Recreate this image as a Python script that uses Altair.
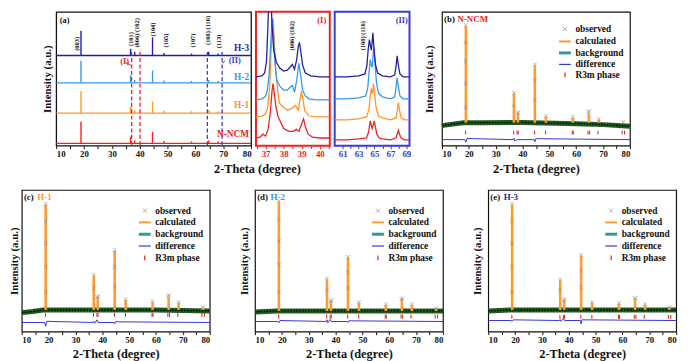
import altair as alt
import pandas as pd

FONT = "Liberation Serif"
BLACK = "#111111"
RED = "#ee2222"
ORANGE = "#ff9428"
LBLUE = "#3399ee"
DBLUE = "#1f1fa6"

# ================= panel (a): stacked XRD patterns =================
A_SAMPLES = ["N-NCM", "H-1", "H-2", "H-3"]
A_COLORS = [RED, ORANGE, LBLUE, DBLUE]
A_OFFSETS = [2.3, 34.0, 65.7, 94.3]
A_PEAK_POS = [18.9, 36.7, 38.2, 44.6, 48.7, 58.6, 64.8, 68.2]
A_H_NNCM = [23, 7, 3, 12, 2.5, 2, 3, 2]
A_H_H1 = [23, 7, 3, 12, 2.5, 2, 3, 2]
A_H_H2 = [23, 8, 3, 13, 2.5, 2, 3, 2]
A_H_H3 = [26, 7, 4, 19, 2.5, 2, 4, 2]
A_NAME_Y = [12, 42, 72, 102]
A_HKL = ["(003)", "(101)", "(006)/(102)", "(104)", "(105)", "(107)", "(108)/(110)", "(113)"]
A_HKL_X = [17.3, 37.0, 38.9, 44.9, 49.3, 59.1, 64.6, 68.6]
A_HKL_Y = [106.5, 111.5, 118, 121.5, 110, 110, 120.5, 109]
A_BOX_X = [37.1, 40.1, 64.3, 69.6]
A_BOX_TOP = [101, 101, 98, 98]
A_BOX_COLOR = [RED, RED, "#3a3ad8", "#3a3ad8"]

# ================= panel (I): 36.5-40.5 deg =================
I_NNCM_X = [36.47, 36.7, 36.85, 37.0, 37.15, 37.28, 37.36, 37.41, 37.48, 37.58, 37.7, 38.0, 38.3, 38.55, 38.7, 38.85, 38.98, 39.1, 39.2, 39.35, 39.6, 40.0, 40.55]
I_NNCM_Y = [8, 9, 12, 10, 18, 38, 58, 65, 55, 40, 30, 18, 15, 15, 17, 15, 22, 28, 20, 12, 9, 8, 8]
I_H1_X = [36.47, 36.8, 37.0, 37.12, 37.23, 37.32, 37.41, 37.48, 37.56, 37.75, 38.0, 38.2, 38.45, 38.66, 38.8, 38.9, 38.98, 39.06, 39.16, 39.4, 39.8, 40.55]
I_H1_Y = [30, 31, 33, 40, 62, 105, 133, 112, 78, 45, 40, 37, 39, 42, 37, 48, 57, 49, 37, 31, 30, 30]
I_H2_X = [36.47, 36.8, 36.98, 37.1, 37.2, 37.28, 37.36, 37.43, 37.5, 37.62, 37.8, 38.0, 38.2, 38.35, 38.48, 38.6, 38.72, 38.84, 38.95, 39.05, 39.2, 39.4, 39.8, 40.55]
I_H2_Y = [48, 49, 51, 58, 75, 105, 133, 118, 92, 68, 62, 58, 58, 61, 63, 56, 68, 86, 72, 58, 52, 49, 48, 48]
I_H3_X = [36.47, 36.8, 36.95, 37.05, 37.12, 37.2, 37.28, 37.36, 37.45, 37.6, 37.8, 38.0, 38.2, 38.35, 38.48, 38.6, 38.72, 38.8, 38.87, 38.95, 39.05, 39.2, 39.5, 40.0, 40.55]
I_H3_Y = [72, 73, 76, 88, 120, 165, 165, 125, 100, 87, 81, 78, 79, 82, 85, 80, 90, 103, 108, 98, 84, 76, 73, 72, 72]

# ================= panel (II): 60-69.4 deg =================
II_NNCM_X = [60.0, 61.5, 63.0, 64.0, 64.25, 64.47, 64.6, 64.72, 64.85, 64.97, 65.1, 65.3, 65.6, 66.0, 67.0, 67.7, 67.88, 68.0, 68.15, 68.35, 68.8, 69.4]
II_NNCM_Y = [6, 6, 7, 8, 14, 26, 21, 18, 22, 26, 20, 12, 8, 7, 6, 8, 13, 16, 12, 8, 6, 6]
II_H1_X = [60.0, 61.5, 63.0, 64.0, 64.3, 64.45, 64.6, 64.72, 64.8, 64.88, 65.0, 65.2, 65.5, 66.0, 67.0, 67.7, 67.88, 68.0, 68.15, 68.35, 68.8, 69.4]
II_H1_Y = [27, 27, 28, 30, 38, 50, 60, 54, 58, 65, 55, 40, 31, 29, 27, 29, 38, 45, 37, 29, 27, 27]
II_H2_X = [60.0, 61.5, 63.0, 63.9, 64.15, 64.3, 64.47, 64.6, 64.7, 64.8, 64.9, 65.05, 65.25, 65.5, 66.0, 67.0, 67.55, 67.72, 67.84, 68.0, 68.2, 68.6, 69.4]
II_H2_Y = [49, 49, 50, 52, 60, 75, 90, 84, 82, 92, 103, 88, 66, 55, 51, 49, 51, 62, 71, 62, 52, 49, 49]
II_H3_X = [60.0, 61.5, 63.0, 63.8, 64.05, 64.2, 64.36, 64.5, 64.6, 64.7, 64.8, 64.95, 65.15, 65.4, 66.0, 67.0, 67.55, 67.72, 67.85, 68.0, 68.2, 68.6, 69.4]
II_H3_Y = [72, 72, 73, 75, 84, 100, 111, 104, 100, 108, 118, 100, 84, 76, 73, 72, 74, 84, 94, 84, 75, 72, 72]

# ================= Rietveld panels (b)-(e) =================
R_PEAK_POS = [18.9, 36.8, 38.3, 44.6, 48.7, 58.7, 64.7, 68.4, 77.5]
R_TOP_B = [125, 54, 34, 84, 30, 29, 34, 27, 24]
R_TOP_C = [129, 57, 35, 82, 32, 30, 35, 29, 24]
R_TOP_D = [132, 53, 31, 75, 29, 27, 33, 27, 23]
R_TOP_E = [129, 52, 32, 77, 29, 28, 33, 27, 24]
R_BASE = [24, 22, 21, 22]

R_BG_X = [10, 14, 18, 25, 40, 60, 70, 80]
R_BG_B = [21, 22.5, 24, 24, 24.3, 23, 22, 20.3]
R_BG_C = [19.3, 20.5, 22, 22, 22, 22, 21.5, 21]
R_BG_D = [20, 20.5, 21, 21, 21, 21, 21, 21]
R_BG_E = [21, 21.5, 22, 22, 22, 22, 22, 22]

R3M_POS = [18.8, 36.7, 38.0, 38.4, 44.5, 48.6, 58.5, 58.9, 64.4, 65.0, 68.1, 77.1, 78.0]
R3M_LEVEL = [13.7, 17, 15.3, 15]

DIFF_X = [10, 18.5, 18.9, 19.3, 36.5, 36.8, 37.1, 38.0, 38.4, 44.3, 44.6, 44.9, 80]
DIFF_B = [6.3, 6.3, 3.5, 7.5, 6.3, 8, 5, 6.3, 6.3, 6.3, 4, 7.3, 6.3]
DIFF_C = [9.3, 9.3, 5.5, 10.5, 9.3, 10.5, 8.5, 12, 9.3, 9.3, 8, 10, 9.3]
DIFF_D = [10.3, 10.3, 9, 11.3, 10.3, 12, 9, 12.5, 10.3, 10.3, 9.3, 11, 10.3]
DIFF_E = [11.3, 11.3, 10.5, 12, 11.3, 12.3, 10.5, 13, 11.3, 11.3, 8, 12, 11.3]

OBS_X = [18.9, 18.9, 18.9, 18.9, 18.9, 36.8, 36.8, 38.1, 38.5, 44.6, 44.6, 44.6, 48.7, 58.7, 64.5, 64.9, 68.4, 77.5]
OBS_B = [126, 108, 88, 65, 40, 55, 42, 34, 35, 85, 68, 48, 31, 30, 35, 36, 28, 25]
OBS_C = [130, 112, 90, 66, 40, 58, 44, 35, 36, 83, 66, 46, 33, 31, 36, 37, 30, 25]
OBS_D = [133, 114, 92, 68, 40, 54, 42, 31, 32, 76, 60, 44, 30, 28, 33, 34, 28, 24]
OBS_E = [130, 112, 90, 66, 40, 53, 42, 32, 33, 78, 62, 45, 30, 29, 34, 34, 28, 25]

LEG_LABELS = ["observed", "calculated", "background", "difference", "R3m phase"]
LEG_Y_B = [122, 109, 97, 85, 74]
LEG_Y_LOW = [123, 111, 99, 87, 75]

PANEL_TAGS = ["(b)", "(c)", "(d)", "(e)"]
PANEL_NAMES = ["N-NCM", "H-1", "H-2", "H-3"]
PANEL_NAME_COLORS = [RED, ORANGE, LBLUE, DBLUE]
TAG_Y = [132, 137, 137, 137]

XPATH = "M-1,-1L1,1M-1,1L1,-1"

# ---------------- helpers ----------------
TOP_H = 136
LOW_H = 144


def xaxis(title, values, expr, color=BLACK, title_x=None, fmt=None, tpad=1):
    kw = dict(values=values, labelExpr=expr, tickSize=3, tickColor=color,
              labelColor=color, labelFont=FONT, labelFontWeight="bold",
              labelFontSize=9, labelPadding=1, domain=False, grid=False,
              title=title, titleFont=FONT, titleFontWeight="bold",
              titleFontSize=12.5, titlePadding=tpad, titleColor=BLACK)
    if title_x is not None:
        kw["titleX"] = title_x
    if fmt is not None:
        kw["format"] = fmt
    return alt.Axis(**kw)


def yaxis(pad):
    return alt.Axis(labels=False, ticks=False, domain=False, grid=False,
                    title="Intensity (a.u.)", titleFont=FONT,
                    titleFontWeight="bold", titleFontSize=11,
                    titlePadding=pad, titleColor=BLACK)


def enc_xy(xdom, ydom, ax, ay):
    return dict(
        x=alt.X("x:Q", scale=alt.Scale(domain=xdom, nice=False, zero=False), axis=ax),
        y=alt.Y("y:Q", scale=alt.Scale(domain=ydom, nice=False, zero=False), axis=ay),
    )


def spacer(w, h):
    return alt.Chart(pd.DataFrame({"x": [0]})).mark_point(opacity=0).encode(
        x=alt.X("x:Q", axis=None), y=alt.Y("x:Q", axis=None)
    ).properties(width=w, height=h)


# ---------------- panel (a) ----------------
MAJOR = list(range(10, 81, 5))
EXPR10 = "datum.value % 10 === 0 ? datum.label : ''"
ax_a = xaxis("2-Theta (degree)", MAJOR, EXPR10, title_x=204, tpad=4)
ay_a = yaxis(4)
E = enc_xy([10, 80], [0, 140], ax_a, ay_a)
scol = alt.Color("s:N", scale=alt.Scale(domain=A_SAMPLES, range=A_COLORS), legend=None)

a_heights = [A_H_NNCM, A_H_H1, A_H_H2, A_H_H3]
pk_rows = []
for s, off, hs in zip(A_SAMPLES, A_OFFSETS, a_heights):
    for p, h in zip(A_PEAK_POS, hs):
        pk_rows.append({"x": p, "y": off, "y2": off + h, "s": s})
a_peaks = pd.DataFrame(pk_rows)
a_base = pd.DataFrame({"x": [10] * 4, "x2": [80] * 4, "y": A_OFFSETS, "s": A_SAMPLES})
a_names = pd.DataFrame({"x": [79.3] * 4, "y": A_NAME_Y, "t": A_SAMPLES, "s": A_SAMPLES})
a_hkl = pd.DataFrame({"x": A_HKL_X, "y": A_HKL_Y, "t": A_HKL})
a_box = pd.DataFrame({"x": A_BOX_X, "y": [0.5] * 4, "y2": A_BOX_TOP, "c": A_BOX_COLOR})
a_lab = pd.DataFrame({"x": [11.3, 33.0, 72.0], "y": [131, 88, 90],
                      "t": ["(a)", "(I)", "(II)"], "c": [BLACK, RED, "#3a3ad8"]})
a_arrow = pd.DataFrame({"x": [34.9, 70.6], "x2": [36.8, 69.8], "y": [87, 89], "y2": [84, 86],
                        "c": [RED, "#3a3ad8"]})

pa = alt.layer(
    alt.Chart(a_base).mark_rule(strokeWidth=1.3).encode(**E, x2="x2:Q", color=scol),
    alt.Chart(a_peaks).mark_rule(strokeWidth=1.4).encode(**E, y2="y2:Q", color=scol),
    alt.Chart(a_box).mark_rule(strokeWidth=1.3, strokeDash=[4, 2.5]).encode(
        **E, y2="y2:Q", color=alt.Color("c:N", scale=None)),
    alt.Chart(a_arrow).mark_rule(strokeWidth=1).encode(
        **E, x2="x2:Q", y2="y2:Q", color=alt.Color("c:N", scale=None)),
    alt.Chart(a_names).mark_text(font=FONT, fontWeight="bold", fontSize=9.5, align="right",
                                 baseline="middle").encode(**E, text="t:N", color=scol),
    alt.Chart(a_hkl).mark_text(font=FONT, fontWeight="bold", fontSize=6.5, angle=270,
                               align="center", baseline="middle", color=BLACK).encode(**E, text="t:N"),
    alt.Chart(a_lab).mark_text(font=FONT, fontWeight="bold", fontSize=8.5, align="left",
                               baseline="middle").encode(**E, text="t:N", color=alt.Color("c:N", scale=None)),
).properties(width=198, height=TOP_H, view=alt.ViewBackground(stroke=BLACK, strokeWidth=1.3))


# ---------------- panels (I) and (II) ----------------
def zoom_panel(xs_list, ys_list, xdom, ax, tag, tag_x, hkl, hkl_x, border, w):
    rows = []
    for s, xs, ys in zip(A_SAMPLES, xs_list, ys_list):
        for i, (xv, yv) in enumerate(zip(xs, ys)):
            rows.append({"x": xv, "y": yv, "s": s, "o": i})
    df = pd.DataFrame(rows)
    E2 = enc_xy(xdom, [0, 140], ax, None)
    lab = pd.DataFrame({"x": [tag_x], "y": [131], "t": [tag]})
    hk = pd.DataFrame({"x": [hkl_x], "y": [115], "t": [hkl]})
    return alt.layer(
        alt.Chart(df).mark_line(strokeWidth=1.3, clip=True).encode(
            **E2, color=scol, detail="s:N", order="o:Q"),
        alt.Chart(lab).mark_text(font=FONT, fontWeight="bold", fontSize=8.5, align="right",
                                 baseline="middle", color=border).encode(**E2, text="t:N"),
        alt.Chart(hk).mark_text(font=FONT, fontWeight="bold", fontSize=6.5, angle=270,
                                align="center", baseline="middle", color=BLACK).encode(**E2, text="t:N"),
    ).properties(width=w, height=TOP_H, view=alt.ViewBackground(stroke=border, strokeWidth=2))


ax_I = xaxis(None, [36.5, 37, 37.5, 38, 38.5, 39, 39.5, 40, 40.5],
             "datum.value % 1 === 0 ? datum.label : ''", color=RED, fmt=".0f")
pI = zoom_panel([I_NNCM_X, I_H1_X, I_H2_X, I_H3_X], [I_NNCM_Y, I_H1_Y, I_H2_Y, I_H3_Y],
                [36.47, 40.55], ax_I, "(I)", 40.35, "(006)/(102)", 38.44, RED, 75)
ax_II = xaxis(None, list(range(61, 70)), "datum.value % 2 === 1 ? datum.label : ''",
              color="#3a3ad8", fmt=".0f")
pII = zoom_panel([II_NNCM_X, II_H1_X, II_H2_X, II_H3_X], [II_NNCM_Y, II_H1_Y, II_H2_Y, II_H3_Y],
                 [60.0, 69.4], ax_II, "(II)", 69.2, "(108)/(110)", 63.5, "#3a3ad8", 76)


# ---------------- Rietveld panels ----------------
def refine(i, tops, bg, diff, obs, leg_y, ydom, h, w, pad, tpad):
    ax = xaxis("2-Theta (degree)", MAJOR, EXPR10, tpad=tpad)
    E3 = enc_xy([10, 80], ydom, ax, yaxis(pad))
    n = len(R3M_POS)
    lvl = R3M_LEVEL[i]
    bg_df = pd.DataFrame({"x": R_BG_X, "y": bg})
    pk_df = pd.DataFrame({"x": R_PEAK_POS, "y": [R_BASE[i]] * len(R_PEAK_POS), "y2": tops})
    obs_df = pd.DataFrame({"x": OBS_X, "y": obs})
    r3_df = pd.DataFrame({"x": R3M_POS, "y": [lvl - 2] * n, "y2": [lvl + 2] * n})
    df_df = pd.DataFrame({"x": DIFF_X, "y": diff})
    leg_pt = pd.DataFrame({"x": [55.8], "y": [leg_y[0]]})
    leg_ln = pd.DataFrame({"x": [53.6] * 3, "x2": [58.0] * 3, "y": leg_y[1:4],
                           "c": ["#ff9a2e", "#2a9a9a", "#3535d8"], "w": [2, 3, 1.2]})
    leg_tk = pd.DataFrame({"x": [55.8], "y": [leg_y[4] - 2.5], "y2": [leg_y[4] + 2.5]})
    leg_tx = pd.DataFrame({"x": [59.7] * 5, "y": leg_y, "t": LEG_LABELS})
    tag_df = pd.DataFrame({"x": [10.8, 15.8], "y": [TAG_Y[i]] * 2,
                           "t": [PANEL_TAGS[i], PANEL_NAMES[i]],
                           "c": [BLACK, PANEL_NAME_COLORS[i]]})
    return alt.layer(
        alt.Chart(bg_df).mark_line(color="#1f5a1f", strokeWidth=5).encode(**E3),
        alt.Chart(bg_df).mark_line(color="#000000", strokeWidth=1.3, strokeDash=[1.5, 1.5]).encode(**E3),
        alt.Chart(pk_df).mark_rule(color="#ff9a2e", strokeWidth=2.6).encode(**E3, y2="y2:Q"),
        alt.Chart(obs_df).mark_point(shape=XPATH, filled=False, color="#8c8c8c", size=14,
                                     strokeWidth=0.9).encode(**E3),
        alt.Chart(r3_df).mark_rule(color="#cc2222", strokeWidth=1).encode(**E3, y2="y2:Q"),
        alt.Chart(df_df).mark_line(color="#3535d8", strokeWidth=1).encode(**E3),
        alt.Chart(leg_pt).mark_point(shape=XPATH, filled=False, color="#8c8c8c", size=18,
                                     strokeWidth=1).encode(**E3),
        alt.Chart(leg_ln).mark_rule().encode(**E3, x2="x2:Q", color=alt.Color("c:N", scale=None),
                                             strokeWidth=alt.StrokeWidth("w:Q", scale=None)),
        alt.Chart(leg_tk).mark_rule(color="#cc2222", strokeWidth=1.2).encode(**E3, y2="y2:Q"),
        alt.Chart(leg_tx).mark_text(font=FONT, fontWeight="bold", fontSize=9.5, align="left",
                                    baseline="middle", color=BLACK).encode(**E3, text="t:N"),
        alt.Chart(tag_df).mark_text(font=FONT, fontWeight="bold", fontSize=9, align="left",
                                    baseline="middle").encode(**E3, text="t:N",
                                                              color=alt.Color("c:N", scale=None)),
    ).properties(width=w, height=h, view=alt.ViewBackground(stroke=BLACK, strokeWidth=1.2))


pb = refine(0, R_TOP_B, R_BG_B, DIFF_B, OBS_B, LEG_Y_B, [0, 140], TOP_H, 191, 8, 4)
pc = refine(1, R_TOP_C, R_BG_C, DIFF_C, OBS_C, LEG_Y_LOW, [0, 144], LOW_H, 191, 2, 3)
pd_ = refine(2, R_TOP_D, R_BG_D, DIFF_D, OBS_D, LEG_Y_LOW, [0, 144], LOW_H, 191, 6, 3)
pe = refine(3, R_TOP_E, R_BG_E, DIFF_E, OBS_E, LEG_Y_LOW, [0, 144], LOW_H, 191, 6, 3)

row1 = alt.hconcat(spacer(30, TOP_H), pa, pI, pII, spacer(23, TOP_H), pb,
                   spacing=5, bounds="flush")
row2 = alt.hconcat(pc, pd_, pe, spacing=46, bounds="flush")

chart = alt.vconcat(row1, row2, spacing=13).properties(
    padding=0, background="white").configure_view(stroke=None)

chart.save("out.html", embed_options={"renderer": "svg", "actions": False})
